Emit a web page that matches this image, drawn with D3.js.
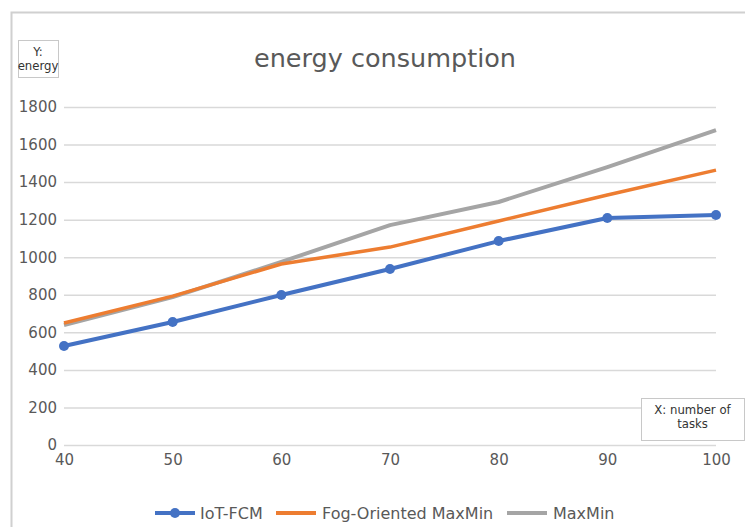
<!DOCTYPE html>
<html><head><meta charset="utf-8">
<script src="https://cdn.jsdelivr.net/npm/d3@7"></script>
<style>body{margin:0;background:#fff}svg{display:block}text{font-family:"DejaVu Sans",sans-serif}</style>
</head><body><svg id="c" width="745" height="527"></svg>
<script>
const categories = [40, 50, 60, 70, 80, 90, 100];
const iotFcm = [527, 655, 799, 937, 1086, 1209, 1225];
const fogMaxMin = [650, 793, 964, 1054, 1193, 1331, 1464];
const maxMin = [639, 788, 975, 1171, 1294, 1480, 1677];
const yTicks = [0, 200, 400, 600, 800, 1000, 1200, 1400, 1600, 1800];
const seriesNames = ["IoT-FCM", "Fog-Oriented MaxMin", "MaxMin"];
const colors = ["#4472c4", "#ed7d31", "#a5a5a5"];

const svg = d3.select("#c");
svg.append("path").attr("d","M11.5,527 V12.5 H745").attr("fill","none").attr("stroke","#d0d0d0").attr("stroke-width",2);

const x = d3.scaleLinear().domain([40,100]).range([64,716]);
const y = d3.scaleLinear().domain([0,1800]).range([445,107]);

svg.append("g").selectAll("line").data(yTicks).join("line")
  .attr("x1",64).attr("x2",716).attr("y1",d=>y(d)+0.5).attr("y2",d=>y(d)+0.5)
  .attr("stroke","#d9d9d9").attr("stroke-width",1.5);

const ya = svg.append("g").attr("transform","translate(64,0)")
  .call(d3.axisLeft(y).tickValues(yTicks).tickFormat(d3.format("d")).tickSize(0).tickPadding(7));
ya.select(".domain").remove();
ya.selectAll("text").attr("fill","#595959").style("font-size","15px").style("font-family","DejaVu Sans");

const xa = svg.append("g").attr("transform","translate(0,445)")
  .call(d3.axisBottom(x).tickValues(categories).tickFormat(d3.format("d")).tickSize(0).tickPadding(9));
xa.select(".domain").remove();
xa.selectAll("text").attr("fill","#595959").style("font-size","15px").style("font-family","DejaVu Sans");

svg.append("text").attr("x",385).attr("y",67).attr("text-anchor","middle")
  .attr("fill","#595959").style("font-size","25.5px").text("energy consumption");

function box(x0,y0,w,h,lines){
  svg.append("rect").attr("x",x0+0.5).attr("y",y0+0.5).attr("width",w).attr("height",h)
    .attr("fill","#fff").attr("stroke","#c8c8c8");
  lines.forEach((t,i)=>svg.append("text").attr("x",x0+w/2).attr("y",y0+16+i*14)
    .attr("text-anchor","middle").attr("fill","#333").style("font-size","13px")
    .style("font-family","DejaVu Sans Condensed").text(t));
}
box(18,40,40,37,["Y:","energy"]);
box(641,398,103,42,["X: number of","tasks"]);

const data = [iotFcm, fogMaxMin, maxMin];
const line = d3.line().x((d,i)=>x(categories[i])).y(d=>y(d));
const widths = [4,3.5,4];
[2,1,0].forEach(k=>{
  svg.append("path").datum(data[k]).attr("d",line).attr("fill","none")
    .attr("stroke",colors[k]).attr("stroke-width",widths[k]).attr("stroke-linejoin","round");
});
svg.append("g").selectAll("circle").data(iotFcm).join("circle")
  .attr("cx",(d,i)=>x(categories[i])).attr("cy",d=>y(d)).attr("r",5).attr("fill",colors[0]);

const lg = [{x:155,tx:200},{x:276,tx:322},{x:507,tx:553}];
lg.forEach((l,k)=>{
  svg.append("line").attr("x1",l.x).attr("x2",l.x+40).attr("y1",513).attr("y2",513)
    .attr("stroke",colors[k]).attr("stroke-width",4);
  if(k===0) svg.append("circle").attr("cx",l.x+20).attr("cy",513).attr("r",5).attr("fill",colors[0]);
  svg.append("text").attr("x",l.tx).attr("y",519).attr("fill","#595959").style("font-size","16px").text(seriesNames[k]);
});
</script></body></html>
